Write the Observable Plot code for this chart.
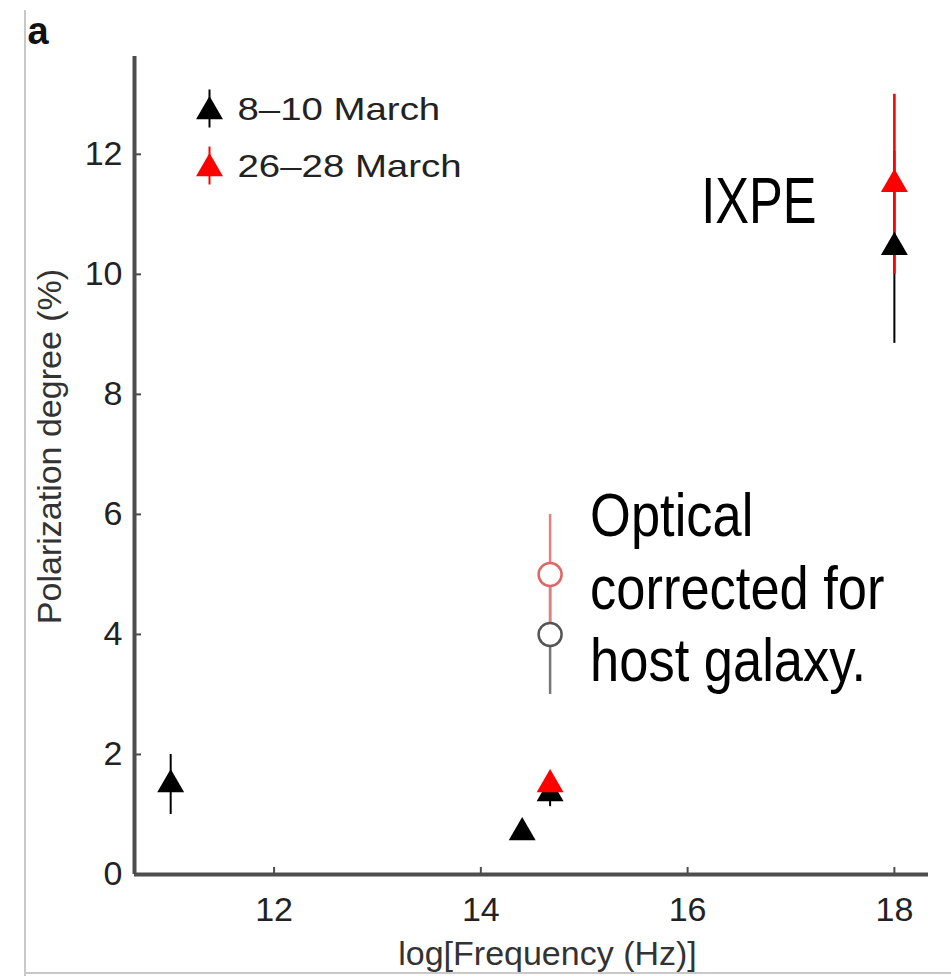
<!DOCTYPE html>
<html>
<head>
<meta charset="utf-8">
<script src="https://cdn.jsdelivr.net/npm/d3@7"></script>
<script src="https://cdn.jsdelivr.net/npm/@observablehq/plot@0.6"></script>
<style>
  html, body { margin: 0; padding: 0; background: #fff; }
  #wrap { position: relative; width: 951px; height: 976px; }
  #edge-left { position: absolute; left: 24px; top: 10px; width: 2px; height: 966px; background: #c8c8c8; }
  #edge-bottom { position: absolute; left: 24px; top: 972px; width: 927px; height: 2px; background: #c8c8c8; }
</style>
</head>
<body>
<div id="wrap"><div id="edge-left"></div><div id="edge-bottom"></div></div>
<script>
// Axis ticks
const xTicks = [12, 14, 16, 18];
const yTicks = [0, 2, 4, 6, 8, 10, 12];
const xDomain = [10.65, 18.33];
const yDomain = [0, 13.63];

// 8–10 March (black): log frequency, polarization degree, error bounds
const blackFreq = [11.0, 14.4, 14.67, 18.0];
const blackPD   = [1.5, 0.7, 1.35, 10.45];
const blackLo   = [1.0, 0.62, 1.13, 8.85];
const blackHi   = [2.0, 0.78, 1.57, 12.05];

// 26–28 March (red)
const redFreq = [14.67, 18.0];
const redPD   = [1.5, 11.5];
const redLo   = [1.4, 10.0];
const redHi   = [1.6, 13.0];

// Optical, corrected for host galaxy (open circles)
const optFreq  = [14.67, 14.67];
const optPD    = [4.0, 5.0];
const optLo    = [3.0, 4.0];
const optHi    = [5.0, 6.0];
const optEdge  = ["#555555", "#e06666"];
const optWhisk = ["#777777", "#e58080"];

// Legend
const legendLabels = ["8\u201310 March", "26\u201328 March"];
const legendColors = ["#000000", "#ff0000"];

// Annotations
const ixpeNote = "IXPE";
const opticalNote = "Optical\ncorrected for\nhost galaxy.";

const rows = (f, v, lo, hi, extra = {}) =>
  f.map((x, i) => ({x, y: v[i], lo: lo[i], hi: hi[i], ...Object.fromEntries(Object.entries(extra).map(([k, a]) => [k, a[i]]))}));

const black = rows(blackFreq, blackPD, blackLo, blackHi);
const red = rows(redFreq, redPD, redLo, redHi);
const optical = rows(optFreq, optPD, optLo, optHi, {edge: optEdge, whisk: optWhisk});

const sans = "'Liberation Sans', Arial, Helvetica, sans-serif";
const axisGray = "#4d4d4d";

// short vertical bar used for the legend error ticks
const vbar = {draw(ctx, size) { const r = Math.sqrt(size / Math.PI); ctx.moveTo(0, -r); ctx.lineTo(0, r); }};

const legendMarks = legendLabels.flatMap((label, i) => [
  Plot.dot([label], {frameAnchor: "top-left", dx: 75, dy: 52 + i * 57, symbol: vbar, r: 19, stroke: legendColors[i], strokeWidth: 2, fill: "none"}),
  Plot.dot([label], {frameAnchor: "top-left", dx: 75, dy: 55 + i * 57, symbol: "triangle", r: 10, fill: legendColors[i]}),
  Plot.text([label], {text: d => d, frameAnchor: "top-left", dx: 103, dy: 53 + i * 57, textAnchor: "start", lineAnchor: "middle", fontSize: 32, fill: "#222"})
]);

const chart = Plot.plot({
  width: 951,
  height: 976,
  marginLeft: 134,
  marginRight: 23,
  marginTop: 56,
  marginBottom: 102,
  style: {fontFamily: sans, fontSize: "34px", color: "#222", background: "transparent", overflow: "visible"},
  x: {domain: xDomain, axis: null},
  y: {domain: yDomain, axis: null},
  marks: [
    // tick labels
    Plot.axisX({ticks: xTicks, tickSize: 0, tickPadding: 22, label: null, fontSize: 34, fill: "#222"}),
    Plot.axisY({ticks: yTicks, tickSize: 0, tickPadding: 12, label: null, fontSize: 34, fill: "#222"}),
    // inward tick marks
    Plot.axisX({ticks: xTicks, tickSize: 7, dy: -7, tickFormat: () => "", label: null, stroke: axisGray, strokeWidth: 2}),
    Plot.axisY({ticks: yTicks, tickSize: 7, dx: 7, tickFormat: () => "", label: null, stroke: axisGray, strokeWidth: 2}),
    // axis lines
    Plot.ruleY([yDomain[0]], {stroke: axisGray, strokeWidth: 4}),
    Plot.ruleX([xDomain[0]], {stroke: axisGray, strokeWidth: 4}),
    // axis titles
    Plot.text(["log[Frequency (Hz)]"], {text: d => d, frameAnchor: "bottom", dx: 16, dy: 80, textAnchor: "middle", lineAnchor: "middle", fontSize: 34, fill: "#333"}),
    Plot.text(["Polarization degree (%)"], {text: d => d, frameAnchor: "left", dx: -84, dy: -19, rotate: -90, textAnchor: "middle", lineAnchor: "middle", fontSize: 34, fill: "#333"}),
    // panel letter
    Plot.text(["a"], {text: d => d, frameAnchor: "top-left", dx: -107, dy: -25, textAnchor: "start", lineAnchor: "middle", fontSize: 38, fontWeight: "bold", fill: "#111"}),

    // optical (host-corrected) points
    Plot.ruleX(optical, {x: "x", y1: "lo", y2: "hi", stroke: "whisk", strokeWidth: 2.5}),
    Plot.dot(optical, {x: "x", y: "y", r: 11.5, fill: "white", stroke: "edge", strokeWidth: 2.5}),

    // error bars
    Plot.ruleX(black, {x: "x", y1: "lo", y2: "hi", stroke: "#000", strokeWidth: 2}),
    Plot.ruleX(red, {x: "x", y1: "lo", y2: "hi", stroke: "#ff0000", strokeWidth: 2.6}),
    // triangles
    Plot.dot(black, {x: "x", y: "y", symbol: "triangle", r: 10, fill: "#000"}),
    Plot.dot(red, {x: "x", y: "y", symbol: "triangle", r: 10, fill: "#ff0000"}),

    // annotations
    Plot.text(red.slice(-1), {x: "x", y: "y", text: () => ixpeNote, dx: -78, dy: 18, textAnchor: "end", lineAnchor: "middle", fontSize: 64, fill: "#000"}),
    Plot.text(optical.slice(-1), {x: "x", y: "y", text: () => opticalNote, dx: 40, dy: -90, textAnchor: "start", lineAnchor: "top", lineHeight: 1.19, fontSize: 61, fill: "#000"}),

    ...legendMarks
  ]
});

// horizontal scaling of a text element about its own anchor
function stretchText(match, s) {
  d3.select(chart).selectAll("text").filter(function() { return match(this.textContent); }).each(function() {
    const t = this.getAttribute("transform") || "";
    this.setAttribute("transform", `${t} scale(${s},1)`);
  });
}
stretchText(s => s === ixpeNote, 0.79);
stretchText(s => s === opticalNote.replace(/\n/g, ""), 0.86);
stretchText(s => legendLabels.includes(s), 1.2);

document.getElementById("wrap").appendChild(chart);
chart.style.position = "absolute";
chart.style.left = "0";
chart.style.top = "0";
</script>
</body>
</html>
